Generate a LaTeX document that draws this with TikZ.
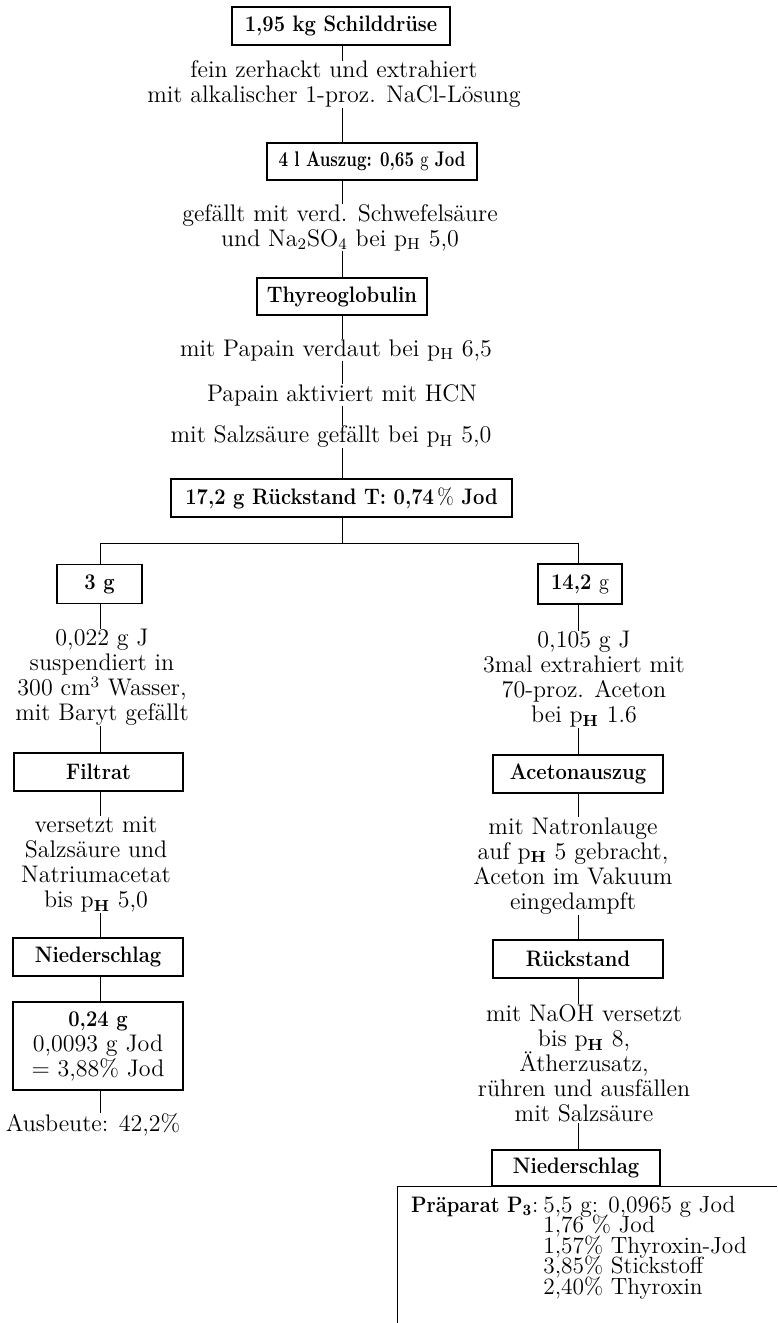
\documentclass[tikz,border=0pt]{standalone}
\newcommand\rmtx{\fontsize{12}{12.5}\selectfont}
\newcommand\rmsm{\fontsize{11.7}{12}\selectfont}
\newcommand\bftx{\fontsize{11.2}{12}\selectfont\bfseries}
\newcommand\bfb[1]{\scalebox{0.9}[1]{\bftx #1}}
\newcommand\bfn[1]{\scalebox{0.78}[1]{\fontsize{10.6}{11}\selectfont\bfseries #1}}
\tikzset{
  box/.style={draw, line width=0.6pt, inner sep=0pt, font=\bftx, align=center},
  txt/.style={inner sep=0pt, align=center, font=\rmtx},
  conn/.style={line width=0.5pt},
  fin/.style={anchor=base west, inner sep=0pt, font=\rmsm},
}
\begin{document}
\begin{tikzpicture}[x=0.5pt,y=-0.5pt]
\useasboundingbox (0,0) rectangle (777,1323);
\coordinate (s) at (342,0);
\coordinate (sl) at (100,0);
\coordinate (sr) at (578,0);
\coordinate (hl) at (100,543);
\coordinate (hr) at (578,543);
% main column
\node[box, minimum width=109pt, minimum height=19pt] (b1) at (341,26) {\bfb{1,95 kg Schilddrüse}};
\node[txt] (t1) at (334,84.5) {fein zerhackt und extrahiert\\mit alkalischer 1-proz. NaCl-Lösung};
\node[box, minimum width=105pt, minimum height=18.5pt] (b2) at (372,161.5) {\bfn{4 l Auszug: 0,65 {\mdseries g} Jod}};
\node[txt] (t2) at (340,227.5) {gefällt mit verd. Schwefelsäure\\und Na\textsubscript{2}SO\textsubscript{4} bei p\textsubscript{H} 5,0};
\node[box, minimum width=85pt, minimum height=18.5pt] (b3) at (342,296.5) {\bfb{Thyreoglobulin}};
\node[txt] (t3) at (336,350) {mit Papain verdaut bei p\textsubscript{H} 6,5};
\node[txt] (t4) at (342,395) {Papain aktiviert mit HCN};
\node[txt] (t5) at (331,437) {mit Salzsäure gefällt bei p\textsubscript{H} 5,0};
\node[box, minimum width=170.5pt, minimum height=19pt] (b4) at (341.5,498) {\bfb{17,2 g Rückstand T: 0,74\,{\mdseries\%} Jod}};
% left branch
\node[box, minimum width=42.5pt, minimum height=19.5pt] (b5) at (99.5,584) {\bfb{3 g}};
\node[txt] (t6) at (102,677.5) {0,022 g J\\suspendiert in\\300 cm\textsuperscript{3} Wasser,\\mit Baryt gefällt};
\node[box, minimum width=84.5pt, minimum height=19pt] (b6) at (98.5,772) {\bfb{Filtrat}};
\node[txt] (t7) at (96,864.5) {versetzt mit\\Salzsäure und\\Natriumacetat\\bis p\textsubscript{\textbf{H}} 5,0};
\node[box, minimum width=85pt, minimum height=19pt] (b7) at (98,957) {\bfb{Niederschlag}};
\node[box, minimum width=85pt, minimum height=44pt, font=\rmtx] (b8) at (98,1046) {\bfb{0,24 g}\\0,0093 g Jod\\= 3,88\% Jod};
\node[txt] (t8) at (93,1125) {Ausbeute: 42,2\%};
% right branch
\node[box, minimum width=42pt, minimum height=20pt] (b9) at (580,584) {\bfb{14,2 {\mdseries g}}};
\node[txt] (t9) at (584,679.5) {0,105 g J\\3mal extrahiert mit\\70-proz. Aceton\\bei p\textsubscript{\textbf{H}} 1.6};
\node[box, minimum width=85pt, minimum height=19pt] (b10) at (578,774) {\bfb{Acetonauszug}};
\node[txt] (t10) at (573,866) {mit Natronlauge\\auf p\textsubscript{\textbf{H}} 5 gebracht,\\Aceton im Vakuum\\eingedampft};
\node[box, minimum width=85pt, minimum height=19pt] (b11) at (578,959) {\bfb{Rückstand}};
\node[txt] (t11) at (584,1063.5) {mit NaOH versetzt\\bis p\textsubscript{\textbf{H}} 8,\\Ätherzusatz,\\rühren und ausfällen\\mit Salzsäure};
\node[box, minimum width=84pt, minimum height=18pt] (b12) at (576,1168) {\bfb{Niederschlag}};
% final preparation
\coordinate (pl) at (397,1186);
\coordinate (pr) at (777,1186);
\coordinate (pb) at (397,1323);
\node[anchor=base east, inner sep=0pt] (p0) at (539,1212) {\bfb{Präparat P\textsubscript{3}}\rmsm:};
\node[fin] (p1) at (543,1212) {5,5 g: 0,0965 g Jod};
\node[fin] (p2) at (543,1232.5) {1,76 \% Jod};
\node[fin] (p3) at (543,1253) {1,57\% Thyroxin-Jod};
\node[fin] (p4) at (543,1273.5) {3,85\% Stickstoff};
\node[fin] (p5) at (543,1294) {2,40\% Thyroxin};
% connectors main
\draw[conn] (s |- b1.south) -- (s |- t1.north);
\draw[conn] (s |- t1.south) -- (s |- b2.north);
\draw[conn] (s |- b2.south) -- (s |- t2.north);
\draw[conn] (s |- t2.south) -- (s |- b3.north);
\draw[conn] (s |- b3.south) -- (s |- t3.north);
\draw[conn] (s |- t3.south) -- (s |- t4.north);
\draw[conn] (s |- t4.south) -- (s |- t5.north);
\draw[conn] (s |- t5.south) -- (s |- b4.north);
\draw[conn] (s |- b4.south) -- (s |- hl);
\draw[conn] (hl |- b5.north) -- (hl) -- (hr) -- (hr |- b9.north);
% connectors left
\draw[conn] (sl |- b5.south) -- (sl |- t6.north);
\draw[conn] (sl |- t6.south) -- (sl |- b6.north);
\draw[conn] (sl |- b6.south) -- (sl |- t7.north);
\draw[conn] (sl |- t7.south) -- (sl |- b7.north);
\draw[conn] (sl |- b7.south) -- (sl |- b8.north);
\draw[conn] (sl |- b8.south) -- (sl |- t8.north);
% connectors right
\draw[conn] (sr |- b9.south) -- (sr |- t9.north);
\draw[conn] (sr |- t9.south) -- (sr |- b10.north);
\draw[conn] (sr |- b10.south) -- (sr |- t10.north);
\draw[conn] (sr |- t10.south) -- (sr |- b11.north);
\draw[conn] (sr |- b11.south) -- (sr |- t11.north);
\draw[conn] (sr |- t11.south) -- (sr |- b12.north);
\draw[conn] (pr) -- (pl) -- (pb);
\end{tikzpicture}
\end{document}
